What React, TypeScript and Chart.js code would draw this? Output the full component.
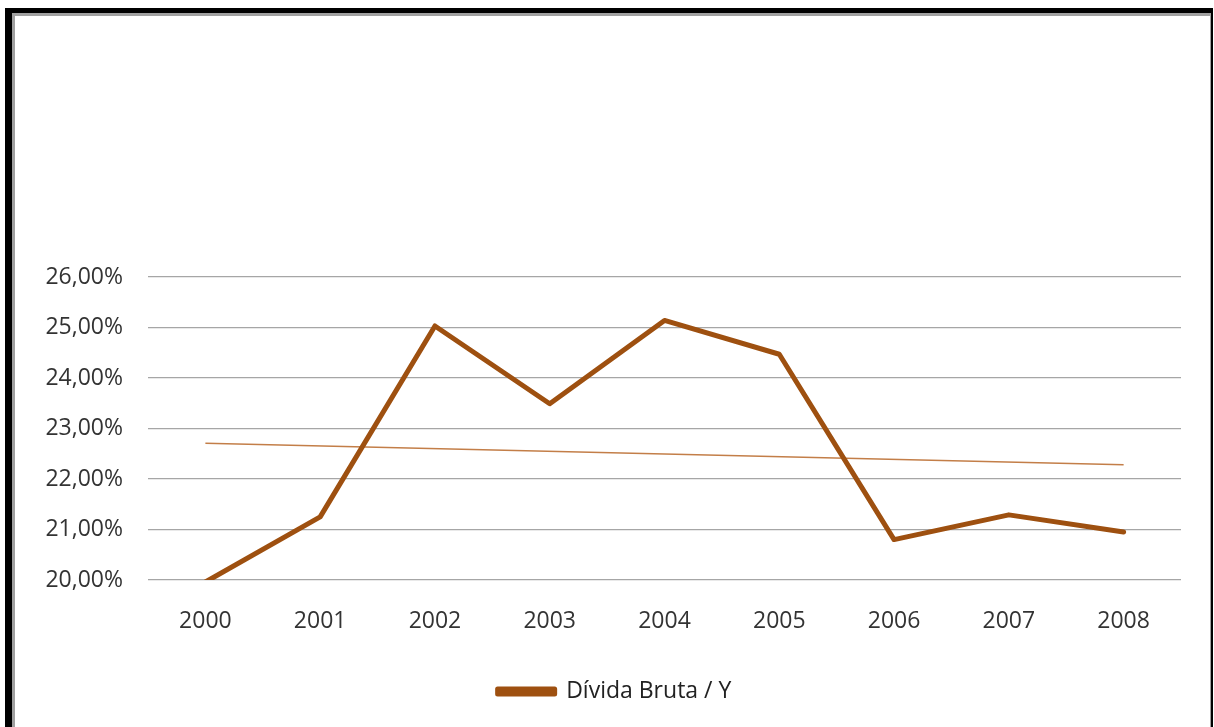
import React, { useEffect, useRef } from "react";
import { Chart, registerables } from "chart.js";

Chart.register(...registerables);

const years = ["2000", "2001", "2002", "2003", "2004", "2005", "2006", "2007", "2008"];
const dividaBruta = [19.96, 21.25, 25.03, 23.49, 25.14, 24.47, 20.8, 21.29, 20.95];
const trendLine = [22.71, null, null, null, null, null, null, null, 22.28];
const seriesLabel = "Dívida Bruta / Y";

const FONT = "'Open Sans'";

const legendShift = {
  id: "legendShift",
  afterLayout(chart: any) {
    if (chart.legend) {
      chart.legend.left += 24;
      chart.legend.right += 24;
    }
  },
};

export default function App() {
  const ref = useRef<HTMLCanvasElement | null>(null);

  useEffect(() => {
    if (!ref.current) return;
    const chart = new Chart(ref.current, {
      type: "line",
      data: {
        labels: years,
        datasets: [
          {
            label: seriesLabel,
            data: dividaBruta,
            borderColor: "#9E5010",
            backgroundColor: "#9E5010",
            borderWidth: 5,
            pointRadius: 0,
            tension: 0,
            borderJoinStyle: "round",
            borderCapStyle: "round",
          },
          {
            label: "trend",
            data: trendLine,
            borderColor: "#C37E48",
            backgroundColor: "#C37E48",
            borderWidth: 1.5,
            pointRadius: 0,
            spanGaps: true,
          },
        ],
      },
      plugins: [legendShift],
      options: {
        animation: false,
        responsive: false,
        maintainAspectRatio: false,
        layout: { padding: { left: 0, right: 33, top: 277, bottom: 14 } },
        plugins: {
          title: { display: false },
          tooltip: { enabled: false },
          legend: {
            position: "bottom",
            labels: {
              filter: (item) => item.text !== "trend",
              boxWidth: 57,
              boxHeight: 5,
              padding: 10,
              color: "#222",
              font: { family: FONT, size: 23 },
            },
          },
        },
        scales: {
          x: {
            offset: true,
            grid: { display: false, drawTicks: false },
            border: { display: false },
            ticks: { color: "#333", font: { family: FONT, size: 23 }, padding: 28, maxRotation: 0 },
            afterFit: (s: any) => {
              s.height = 90;
            },
          },
          y: {
            min: 20,
            max: 26,
            grid: { color: "#a6a6a6", lineWidth: 1.2, drawTicks: false },
            border: { display: false },
            ticks: {
              stepSize: 1,
              padding: 25,
              color: "#333",
              font: { family: FONT, size: 23 },
              callback: (v: any) => Number(v).toFixed(2).replace(".", ",") + "%",
            },
            afterFit: (s: any) => {
              s.width = 148;
            },
          },
        },
      },
    });
    return () => chart.destroy();
  }, []);

  return (
    <div style={{ position: "fixed", left: 0, top: 0, width: 1214, height: 727, background: "#fff", overflow: "hidden" }}>
      <canvas ref={ref} width={1214} height={727} style={{ position: "absolute", left: 0, top: 0 }} />
      <div
        style={{
          position: "absolute",
          left: 5,
          top: 8,
          width: 1199,
          height: 714,
          borderTop: "5px solid #000",
          borderLeft: "7px solid #000",
          borderRight: "2px solid #000",
          pointerEvents: "none",
        }}
      >
        <div
          style={{
            boxSizing: "border-box",
            width: "100%",
            height: "100%",
            borderTop: "3px solid #a0a0a0",
            borderLeft: "3px solid #a0a0a0",
            borderRight: "1px solid #a0a0a0",
          }}
        />
      </div>
    </div>
  );
}
